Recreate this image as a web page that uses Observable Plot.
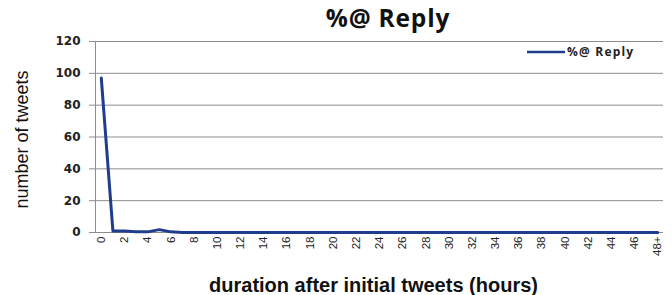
<!DOCTYPE html>
<html>
<head>
<meta charset="utf-8">
<script src="https://cdn.jsdelivr.net/npm/d3@7"></script>
<script src="https://cdn.jsdelivr.net/npm/@observablehq/plot@0.6"></script>
<style>
  html, body { margin: 0; padding: 0; background: #fff; }
  #wrap { position: relative; width: 672px; height: 295px; overflow: hidden; background: #fff; }
  #title { position: absolute; left: 0; top: 0; width: 672px; height: 30px; z-index: 2; }
  #title span { position: absolute; left: 388px; top: 1px; transform: translateX(-50%);
    font-family: "Open Sans", sans-serif; font-weight: 700; font-size: 24.5px; letter-spacing: 0.8px; color: #111; white-space: nowrap; }
  #chart { position: absolute; left: 0; top: 30px; z-index: 1; }
  #legend { position: absolute; left: 527px; top: 43px; display: flex; align-items: center; z-index: 3;
    font-family: "Open Sans", sans-serif; font-weight: 700; font-size: 12px; letter-spacing: 1.2px; color: #222; }
  #legend svg { margin-right: 2px; }
</style>
</head>
<body>
<div id="wrap">
  <div id="title"><span>%@ Reply</span></div>
  <div id="chart"></div>
  <div id="legend"><svg width="38" height="6"><line x1="0" y1="3" x2="38" y2="3" stroke="#1f3d8c" stroke-width="2.5"/></svg><span>%@ Reply</span></div>
</div>
<script>
const hours = ["0","1","2","3","4","5","6","7","8","9","10","11","12","13","14","15","16","17","18","19","20","21","22","23","24","25","26","27","28","29","30","31","32","33","34","35","36","37","38","39","40","41","42","43","44","45","46","47","48+"];
const replyValues = [97, 1, 1, 0.4, 0.4, 1.8, 0.4, 0, 0, 0, 0, 0, 0, 0, 0, 0, 0, 0, 0, 0, 0, 0, 0, 0, 0, 0, 0, 0, 0, 0, 0, 0, 0, 0, 0, 0, 0, 0, 0, 0, 0, 0, 0, 0, 0, 0, 0, 0, 0];
const yTicks = [0, 20, 40, 60, 80, 100, 120];
const xTickIdx = hours.map((h, i) => i).filter(i => i % 2 === 0);
const seriesName = "%@ Reply";

const data = hours.map((h, i) => ({idx: i, hour: h, value: replyValues[i], series: seriesName}));

const chart = Plot.plot({
  width: 672,
  height: 265,
  marginLeft: 95,
  marginRight: 9,
  marginTop: 11,
  marginBottom: 63,
  x: {type: "linear", domain: [-0.5, hours.length - 0.5]},
  y: {domain: [0, 120]},
  style: {fontFamily: "'Liberation Sans', Arial, sans-serif", background: "transparent"},
  marks: [
    Plot.gridY(yTicks, {stroke: "#8c8c8c", strokeOpacity: 1, strokeWidth: 1}),
    Plot.axisY(yTicks, {tickSize: 6, tickPadding: 9, stroke: "#8c8c8c", fontSize: 12, fontWeight: "bold", fill: "#222",
      fontFamily: "'DejaVu Sans', sans-serif", letterSpacing: 1, label: null}),
    Plot.ruleX([-0.5], {stroke: "#8c8c8c", y1: 0, y2: 120}),
    Plot.ruleY([0], {stroke: "#8c8c8c"}),
    Plot.axisX(xTickIdx, {tickSize: 0, tickPadding: 4, tickRotate: -90, fontSize: 11.5, fill: "#222",
      tickFormat: i => hours[i], label: null}),
    Plot.lineY(data, {x: "idx", y: "value", stroke: "#1f3d8c", strokeWidth: 3, curve: "linear"}),
    Plot.text(["duration after initial tweets (hours)"], {frameAnchor: "bottom", dy: 59, dx: -6, fontSize: 20, fontWeight: "bold", fill: "#111"}),
    Plot.text(["number of tweets"], {frameAnchor: "left", textAnchor: "middle", dx: -73, dy: 2.5, rotate: -90, fontSize: 18, fill: "#111",
      fontFamily: "'Liberation Sans Narrow', 'Arial Narrow', sans-serif", fontStretch: "condensed"})
  ]
});
document.getElementById("chart").appendChild(chart);
</script>
</body>
</html>
